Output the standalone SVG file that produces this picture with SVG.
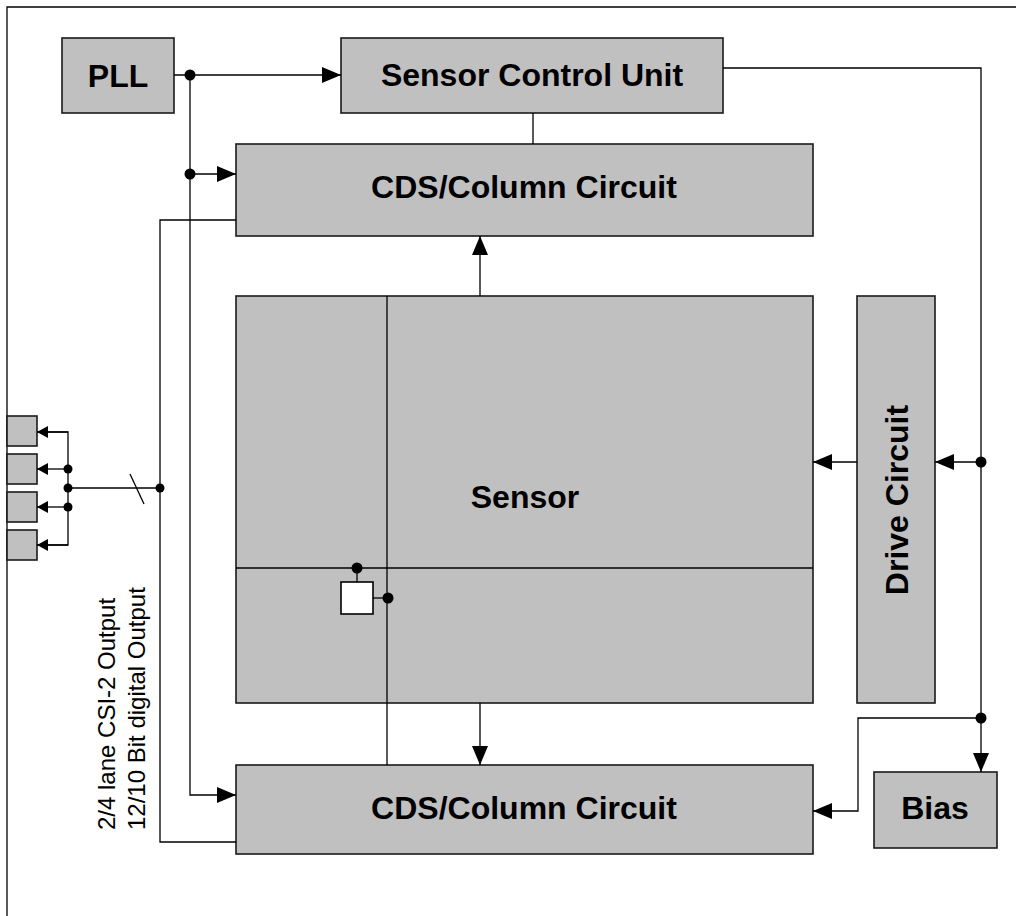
<svg xmlns="http://www.w3.org/2000/svg" width="1016" height="916" viewBox="0 0 1016 916">
<style>
.box{fill:#c0c0c0;stroke:#1a1a1a;stroke-width:1.6}
.wbox{fill:#ffffff;stroke:#000;stroke-width:1.6}
.ln{fill:none;stroke:#000;stroke-width:1.3}
.dot{fill:#000}
.t{font-family:"Liberation Sans",Arial,sans-serif;font-weight:bold;font-size:32px;fill:#000;text-anchor:middle}
.s{font-family:"Liberation Sans",Arial,sans-serif;font-size:24px;fill:#000}
</style>
<defs>
<marker id="a" markerUnits="userSpaceOnUse" markerWidth="20" markerHeight="16" refX="19" refY="8" orient="auto">
<path d="M0,0 L19,8 L0,16 Z" fill="#000"/>
</marker>
<marker id="b" markerUnits="userSpaceOnUse" markerWidth="11" markerHeight="12" refX="11" refY="6" orient="auto">
<path d="M0,0 L11,6 L0,12 Z" fill="#000"/>
</marker>
</defs>
<rect width="1016" height="916" fill="#fff"/>
<g id="frame">
<path class="ln" d="M7,916 V7 H1016"/>
</g>
<g id="pll"><rect class="box" x="62" y="38" width="112" height="75"/><text class="t" x="118" y="87">PLL</text></g>
<g id="scu"><rect class="box" x="341" y="38" width="382" height="75"/><text class="t" x="532" y="86">Sensor Control Unit</text></g>
<g id="cds-top"><rect class="box" x="236" y="144" width="577" height="92"/><text class="t" x="524" y="198">CDS/Column Circuit</text></g>
<g id="sensor"><rect class="box" x="236" y="296" width="577" height="407"/>
<path class="ln" d="M236,568 H813"/>
<text class="t" x="525" y="508">Sensor</text></g>
<g id="pixel"><rect class="wbox" x="341" y="582" width="32" height="32"/></g>
<g id="drive"><rect class="box" x="857" y="296" width="78" height="407"/><text class="t" transform="translate(908,500) rotate(-90)" x="0" y="0">Drive Circuit</text></g>
<g id="cds-bottom"><rect class="box" x="236" y="765" width="577" height="89"/><text class="t" x="524" y="819">CDS/Column Circuit</text></g>
<g id="bias"><rect class="box" x="874" y="772" width="123" height="76"/><text class="t" x="935" y="819">Bias</text></g>
<g id="outputs">
<rect class="box" x="7" y="416" width="30" height="30"/>
<rect class="box" x="7" y="454" width="30" height="30"/>
<rect class="box" x="7" y="492" width="30" height="30"/>
<rect class="box" x="7" y="530" width="30" height="30"/>
</g>
<g id="output-label">
<text class="s" transform="translate(115,830) rotate(-90)">2/4 lane CSI-2 Output</text>
<text class="s" transform="translate(145,830) rotate(-90)">12/10 Bit digital Output</text>
</g>
<g id="connectors">
<path class="ln" d="M174,75 H341" marker-end="url(#a)"/>
<path class="ln" d="M190,75 V795 H236" marker-end="url(#a)"/>
<path class="ln" d="M190,174 H236" marker-end="url(#a)"/>
<path class="ln" d="M533,113 V144"/>
<path class="ln" d="M723,68 H981 V772" marker-end="url(#a)"/>
<path class="ln" d="M981,462 H935" marker-end="url(#a)"/>
<path class="ln" d="M857,462 H813" marker-end="url(#a)"/>
<path class="ln" d="M981,718 H858 V811 H813" marker-end="url(#a)"/>
<path class="ln" d="M480,296 V236" marker-end="url(#a)"/>
<path class="ln" d="M480,703 V765" marker-end="url(#a)"/>
<path class="ln" d="M387,296 V765"/>
<path class="ln" d="M357,568 V582"/>
<path class="ln" d="M373,598 H388"/>
<path class="ln" d="M236,220 H160 V842 H236"/>
<path class="ln" d="M160,488 H68"/>
<path class="ln" d="M130,474 L144,504"/>
<path class="ln" d="M37,432 H68 V545 H37"/>
<path class="ln" d="M68,432 H37" marker-end="url(#b)"/>
<path class="ln" d="M68,469 H37" marker-end="url(#b)"/>
<path class="ln" d="M68,507 H37" marker-end="url(#b)"/>
<path class="ln" d="M68,545 H37" marker-end="url(#b)"/>
<circle class="dot" cx="190" cy="75" r="5.5"/>
<circle class="dot" cx="190" cy="174" r="5.5"/>
<circle class="dot" cx="981" cy="462" r="5.5"/>
<circle class="dot" cx="981" cy="718" r="5.5"/>
<circle class="dot" cx="357" cy="568" r="5.5"/>
<circle class="dot" cx="388" cy="598" r="5.5"/>
<circle class="dot" cx="160" cy="488" r="4.5"/>
<circle class="dot" cx="68" cy="469" r="4.5"/>
<circle class="dot" cx="68" cy="488" r="4.5"/>
<circle class="dot" cx="68" cy="507" r="4.5"/>
</g>
</svg>
